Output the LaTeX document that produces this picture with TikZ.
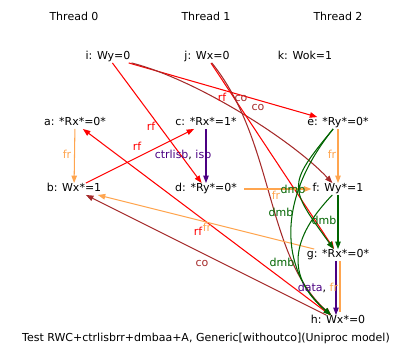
\documentclass[tikz,border=0pt]{standalone}
\usepackage{fontspec}
\setmainfont{DejaVu Sans}
\usetikzlibrary{arrows.meta}
\definecolor{rfc}{HTML}{FF0000}
\definecolor{coc}{HTML}{A52A2A}
\definecolor{frc}{HTML}{FFA54F}
\definecolor{dmbc}{HTML}{006400}
\definecolor{ppo}{HTML}{4B0082}
\begin{document}
\begin{tikzpicture}[x=1pt,y=-1pt,
  ev/.style={inner xsep=1pt, inner ysep=0.5pt, text height=8pt, text depth=2.5pt, font=\fontsize{11}{13}\selectfont},
  lab/.style={inner sep=0pt, font=\fontsize{11}{13}\selectfont},
  edgearr/.style={line width=1.05pt, -{Triangle[length=7.5pt,width=5.5pt]}},
  plainline/.style={line width=1.05pt}]
\useasboundingbox (0,0) rectangle (414,361);
% thread titles
\node[ev] (t0) at (74,18) {Thread 0};
\node[ev] (t1) at (206,18) {Thread 1};
\node[ev] (t2) at (338,18) {Thread 2};
% events
\node[ev] (i) at (108,57) {i: Wy=0};
\node[ev] (j) at (207,57) {j: Wx=0};
\node[ev] (k) at (305,57) {k: Wok=1};
\node[ev] (a) at (75,123) {a: *Rx*=0*};
\node[ev] (c) at (206,123) {c: *Rx*=1*};
\node[ev] (e) at (338,123) {e: *Ry*=0*};
\node[ev] (b) at (74,189) {b: Wx*=1};
\node[ev] (d) at (206,189) {d: *Ry*=0*};
\node[ev] (f) at (338,189) {f: Wy*=1};
\node[ev] (g) at (338,255) {g: *Rx*=0*};
\node[ev] (h) at (338,321) {h: Wx*=0};
\node[ev] (cap) at (206,339) {Test RWC+ctrlisbrr+dmbaa+A, Generic[withoutco](Uniproc model)};
% edges
\draw[edgearr, rfc] (i) -- (e);
\draw[edgearr, coc] (i) .. controls (195,79) and (291,139) .. (f);
\draw[edgearr, rfc] (i) -- (d);
\draw[edgearr, rfc] (j) -- (g);
\draw[edgearr, coc] (j) .. controls (275,141) and (265,256) .. (h);
\draw[edgearr, rfc] (b) -- (c);
\draw[edgearr, rfc] (h) -- (a);
\draw[edgearr, coc] (h) -- (b);
\draw[edgearr, frc] (g) -- (b);
\draw[edgearr, frc] (a) -- (b);
\draw[edgearr, ppo] (c) -- (d);
\draw[edgearr, frc] (e) -- (f);
\draw[edgearr, frc] ([xshift=6pt]d.east) -- (f);
\draw[edgearr, dmbc] (f) -- (g);
\draw[edgearr, dmbc] (e) .. controls (286,186) and (289,187) .. (g);
\draw[edgearr, dmbc] (e) .. controls (271,206) and (285,276) .. (h);
\draw[edgearr, dmbc] (f) .. controls (291,238) and (285,276) .. (h);
\draw[plainline, frc, shorten >=3pt] ([xshift=2pt]g.south) -- ([xshift=2pt]h.north);
\draw[edgearr, ppo] ([xshift=-2pt]g.south) -- ([xshift=-2pt]h.north);
% labels
\node[lab, text=frc] (l1) at (67,154) {fr};
\node[lab, text=rfc] (l2) at (151,126) {rf};
\node[lab, text=rfc] (l3) at (137,146) {rf};
\node[lab] (l4) at (183,155) {\textcolor{ppo}{ctrlisb}, \textcolor{ppo}{isb}};
\node[lab, text=frc] (l5) at (332,154) {fr};
\node[lab, text=frc] (l6) at (276,195) {fr};
\node[lab, text=dmbc] (l7) at (293,189) {dmb};
\node[lab, text=dmbc] (l8) at (281,212) {dmb};
\node[lab, text=dmbc] (l9) at (324,220) {dmb};
\node[lab, text=rfc] (l10) at (198,231) {rf};
\node[lab, text=frc] (l11) at (207,227) {fr};
\node[lab, text=coc] (l12) at (202,263) {co};
\node[lab, text=dmbc] (l13) at (282,262) {dmb};
\node[lab] (l14) at (318,288) {\textcolor{ppo}{data}, \textcolor{frc}{fr}};
\node[lab, text=rfc] (l15) at (222,97) {rf};
\node[lab, text=coc] (l16) at (241,98) {co};
\node[lab, text=coc] (l17) at (258,107) {co};
\end{tikzpicture}
\end{document}
